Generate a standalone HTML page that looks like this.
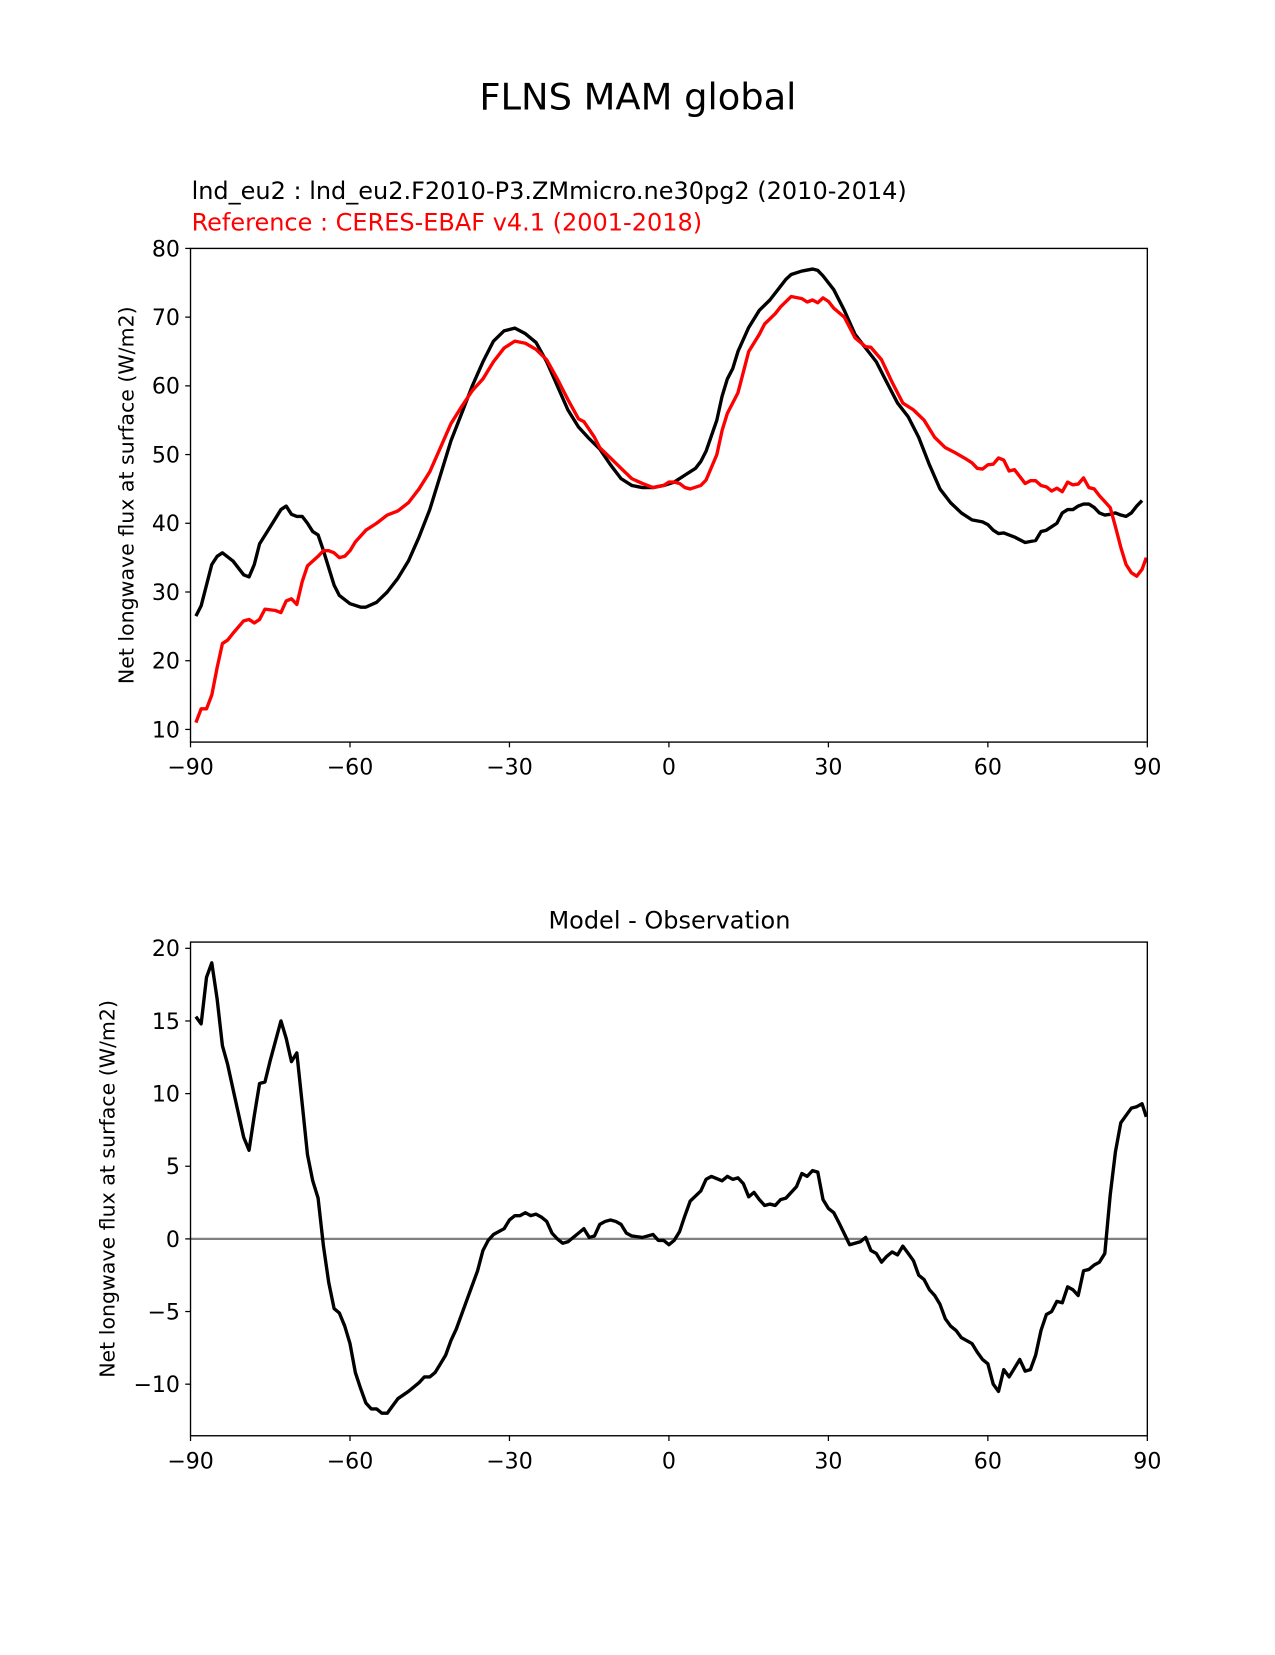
<!DOCTYPE html>
<html><head><meta charset="utf-8"><style>
body{margin:0;background:#fff;font-family:"Liberation Sans","DejaVu Sans",sans-serif}
svg text{font-family:"DejaVu Sans","Liberation Sans",sans-serif}
</style></head><body>
<svg id="svgroot" width="1275" height="1650" viewBox="0 0 1275 1650">
<g id="c" transform="scale(1.0526)">
<text x="606" y="104" font-size="35" text-anchor="middle">FLNS MAM global</text>
<text x="182" y="189" font-size="22.8">lnd_eu2 : lnd_eu2.F2010-P3.ZMmicro.ne30pg2 (2010-2014)</text>
<text x="182" y="219" font-size="22.8" fill="#ff0000">Reference : CERES-EBAF v4.1 (2001-2018)</text>
<text x="636" y="882" font-size="22.8" text-anchor="middle">Model - Observation</text>
</g>
</svg>
<script>
const modelLat=[-89,-88,-86,-85,-84,-82,-80,-79,-78,-77,-75,-73,-72,-71,-70,-69,-68,-67,-66,-65,-63,-62,-60,-58,-57,-55,-53,-51,-49,-47,-45,-43,-41,-39,-37,-35,-33,-31,-29,-27,-25,-23,-21,-19,-17,-15,-13,-11,-9,-7,-5,-3,-1,1,3,5,6,7,9,10,11,12,13,15,17,19,21,22,23,25,27,28,29,31,33,35,37,39,41,43,45,47,49,51,53,55,57,59,60,61,62,63,65,67,69,70,71,73,74,75,76,77,78,79,80,81,82,83,84,85,86,87,88,89];
const modelVal=[26.5,28,34,35.2,35.7,34.5,32.5,32.2,34,37,39.5,42,42.5,41.3,41,41,40,38.8,38.3,36,31,29.5,28.3,27.8,27.8,28.5,30,32,34.5,38,42,47,52,56,60,63.5,66.5,68,68.4,67.6,66.3,63.5,60,56.5,54,52.3,50.8,48.5,46.5,45.5,45.2,45.2,45.5,46,47,48,49,50.5,55,58.5,61,62.5,65,68.5,71,72.5,74.5,75.5,76.2,76.7,77,76.8,76,74,71,67.5,65.5,63.5,60.5,57.5,55.5,52.5,48.5,45,43,41.5,40.5,40.2,39.8,39,38.5,38.6,38,37.2,37.5,38.8,39,40,41.5,42,42,42.5,42.8,42.8,42.3,41.5,41.2,41.3,41.5,41.2,41,41.5,42.5,43.3];
const obsLat=[-89,-88,-87,-86,-85,-84,-83,-82,-80,-79,-78,-77,-76,-74,-73,-72,-71,-70,-69,-68,-66,-65,-64,-63,-62,-61,-60,-59,-57,-55,-53,-51,-49,-47,-45,-43,-41,-39,-37,-35,-33,-31,-29,-27,-25,-23,-21,-19,-17,-16,-14,-13,-11,-9,-7,-5,-3,-1,0,1,2,3,4,6,7,9,10,11,13,15,17,18,20,21,23,25,26,27,28,29,30,31,33,35,37,38,40,42,44,46,48,50,52,54,56,57,58,59,60,61,62,63,64,65,67,68,69,70,71,72,73,74,75,76,77,78,79,80,81,83,84,85,86,87,88,89,89.8];
const obsVal=[11,13,13,15,19,22.5,23,24,25.8,26,25.5,26,27.5,27.3,27,28.7,29,28.2,31.5,33.8,35.2,36,36,35.7,35,35.2,36,37.3,39,40,41.2,41.8,43,45,47.5,51,54.5,57,59.3,61,63.5,65.5,66.5,66.2,65.3,63.8,61,58,55.2,54.8,52.5,51,49.5,48,46.5,45.8,45.2,45.5,46,46,45.8,45.2,45,45.5,46.3,50,53.5,56,59,65,67.5,69,70.5,71.5,73,72.7,72.2,72.5,72.1,72.8,72.3,71.3,70,67,65.7,65.6,63.8,60.5,57.5,56.5,55,52.5,51,50.2,49.3,48.8,48,47.9,48.5,48.6,49.5,49.2,47.6,47.8,45.8,46.2,46.2,45.5,45.3,44.7,45.1,44.6,46,45.6,45.7,46.6,45.2,45,44,42.3,39.5,36.5,34,32.8,32.3,33.3,35];
const diffLat=[-89,-88,-87,-86,-85,-84,-83,-82,-80,-79,-78,-77,-76,-75,-73,-72,-71,-70,-69,-68,-67,-66,-65,-64,-63,-62,-61,-60,-59,-58,-57,-56,-55,-54,-53,-52,-51,-49,-47,-46,-45,-44,-43,-42,-41,-40,-38,-36,-35,-34,-33,-31,-30,-29,-28,-27,-26,-25,-24,-23,-22,-21,-20,-19,-18,-17,-16,-15,-14,-13,-12,-11,-10,-9,-8,-7,-5,-3,-2,-1,0,1,2,3,4,6,7,8,10,11,12,13,14,15,16,17,18,19,20,21,22,24,25,26,27,28,29,30,31,32,34,36,37,38,39,40,41,42,43,44,45,46,47,48,49,50,51,52,53,54,55,56,57,58,59,60,61,62,63,64,65,66,67,68,69,70,71,72,73,74,75,76,77,78,79,80,81,82,83,84,85,86,87,88,89,89.8];
const diffVal=[15.3,14.8,18,19,16.5,13.3,12,10.3,7,6.1,8.5,10.7,10.8,12.3,15,13.8,12.2,12.8,9.3,5.8,4,2.8,-0.5,-3,-4.8,-5.1,-6,-7.2,-9.2,-10.3,-11.3,-11.7,-11.7,-12,-12,-11.5,-11,-10.5,-9.9,-9.5,-9.5,-9.2,-8.6,-8,-7,-6.2,-4.2,-2.2,-0.8,-0.1,0.3,0.7,1.3,1.6,1.6,1.8,1.6,1.7,1.5,1.2,0.4,0,-0.3,-0.2,0.1,0.4,0.7,0.1,0.2,1,1.2,1.3,1.2,1,0.4,0.2,0.1,0.3,-0.1,-0.1,-0.4,-0.1,0.5,1.6,2.6,3.3,4.1,4.3,4,4.3,4.1,4.2,3.8,2.9,3.2,2.7,2.3,2.4,2.3,2.7,2.8,3.6,4.5,4.3,4.7,4.6,2.7,2.1,1.8,1.1,-0.4,-0.2,0.1,-0.8,-1,-1.6,-1.2,-0.9,-1.1,-0.5,-1,-1.5,-2.5,-2.8,-3.5,-3.9,-4.5,-5.5,-6,-6.3,-6.8,-7,-7.2,-7.8,-8.3,-8.6,-10,-10.5,-9,-9.5,-8.9,-8.3,-9.1,-9,-8,-6.3,-5.2,-5,-4.3,-4.4,-3.3,-3.5,-3.9,-2.2,-2.1,-1.8,-1.6,-1,3,6,8,8.5,9,9.1,9.3,8.4];
const xTicks=[-90,-60,-30,0,30,60,90];
const topYTicks=[10,20,30,40,50,60,70,80];
const botYTicks=[-10,-5,0,5,10,15,20];

const NS="http://www.w3.org/2000/svg";
const svg=document.getElementById('c');
function mk(tag,attrs,parent){const e=document.createElementNS(NS,tag);for(const k in attrs)e.setAttribute(k,attrs[k]);(parent||svg).appendChild(e);return e;}
const L=181,R=1090;
const xs=v=>L+(v+90)/180*(R-L);
function axes(top,bot,ymin,ymax,yticks,prefix,ylabel){
  const ys=v=>bot-(v-ymin)/(ymax-ymin)*(bot-top);
  const g=mk('g',{});
  
  
  xTicks.forEach(t=>{
    mk('line',{x1:xs(t),x2:xs(t),y1:bot,y2:bot+5,stroke:'#000','stroke-width':1.2},g);
    const tx=mk('text',{x:xs(t),y:bot+31,'font-size':21,'text-anchor':'middle'},g);
    tx.textContent=(t<0?'\u2212'+(-t):t);
    
    
  });
  yticks.forEach(t=>{
    mk('line',{x1:L-5,x2:L,y1:ys(t),y2:ys(t),stroke:'#000','stroke-width':1.2},g);
    const tx=mk('text',{x:L-10,y:ys(t)+7.5,'font-size':21,'text-anchor':'end'},g);
    tx.textContent=(t<0?'\u2212'+(-t):t);
    
    
  });
  const yl=mk('text',{x:0,y:0,'font-size':19.5,'text-anchor':'middle',transform:`translate(${prefix==='top'?127:109},${(top+bot)/2}) rotate(-90)`},g);
  yl.textContent=ylabel;
  
  
  return {ys,g,top,bot};
}
function line(lat,val,ys,color,name){
  const d=lat.map((a,i)=>(i?'L':'M')+xs(a).toFixed(1)+','+ys(val[i]).toFixed(1)).join('');
  const p=mk('path',{d,fill:'none',stroke:color,'stroke-width':3.2,'stroke-linejoin':'round'});
  
  
}
const A=axes(236,705,8.16,80,topYTicks,'top','Net longwave flux at surface (W/m2)');
line(modelLat,modelVal,A.ys,'#000','model-line');
line(obsLat,obsVal,A.ys,'#ff0000','reference-line');
mk('rect',{x:L,y:236,width:R-L,height:705-236,fill:'none',stroke:'#000','stroke-width':1.3});
const B=axes(895,1364,-13.55,20.43,botYTicks,'bottom','Net longwave flux at surface (W/m2)');
const z=mk('line',{x1:L,x2:R,y1:B.ys(0),y2:B.ys(0),stroke:'#808080','stroke-width':2.2});


line(diffLat,diffVal,B.ys,'#000','difference-line');
mk('rect',{x:L,y:895,width:R-L,height:1364-895,fill:'none',stroke:'#000','stroke-width':1.3});
</script>
</body></html>
